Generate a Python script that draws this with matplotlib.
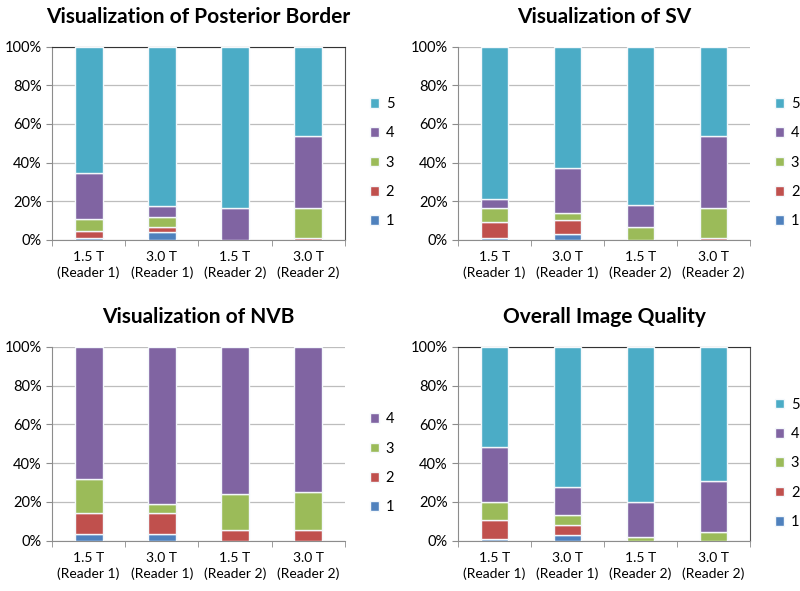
import numpy as np
import matplotlib
matplotlib.use("Agg")
import matplotlib.pyplot as plt
from matplotlib.ticker import PercentFormatter

plt.rcParams['font.family'] = ['Lato', 'DejaVu Sans']

# categories on the x axis
categories = ['1.5 T\n(Reader 1)', '3.0 T\n(Reader 1)', '1.5 T\n(Reader 2)', '3.0 T\n(Reader 2)']

# percent per score, one value per category
border_1 = [1.0, 4.3, 0.0, 0.0]
border_2 = [3.5, 2.6, 0.0, 1.0]
border_3 = [6.5, 4.8, 0.0, 15.4]
border_4 = [23.5, 6.1, 16.4, 37.6]
border_5 = [65.5, 82.2, 83.6, 46.0]

sv_1 = [1.0, 3.1, 0.0, 0.0]
sv_2 = [8.3, 7.3, 0.0, 1.0]
sv_3 = [7.1, 3.6, 6.7, 15.4]
sv_4 = [5.0, 23.0, 11.3, 37.6]
sv_5 = [78.6, 63.0, 82.0, 46.0]

nvb_1 = [3.4, 3.4, 0.0, 0.0]
nvb_2 = [10.7, 10.7, 5.7, 5.7]
nvb_3 = [17.9, 4.7, 18.3, 19.3]
nvb_4 = [68.0, 81.2, 76.0, 75.0]

overall_1 = [1.0, 3.1, 0.0, 0.0]
overall_2 = [9.7, 5.2, 0.0, 0.0]
overall_3 = [9.5, 5.2, 1.9, 4.5]
overall_4 = [28.0, 14.0, 18.3, 26.5]
overall_5 = [51.8, 72.5, 79.8, 69.0]

score_colors = {'1': '#4F81BD', '2': '#C0504D', '3': '#9BBB59',
                '4': '#8064A2', '5': '#4BACC6'}

panels = [
    ('Visualization of Posterior Border',
     [('1', border_1), ('2', border_2), ('3', border_3), ('4', border_4), ('5', border_5)], True),
    ('Visualization of SV',
     [('1', sv_1), ('2', sv_2), ('3', sv_3), ('4', sv_4), ('5', sv_5)], False),
    ('Visualization of NVB',
     [('1', nvb_1), ('2', nvb_2), ('3', nvb_3), ('4', nvb_4)], False),
    ('Overall Image Quality',
     [('1', overall_1), ('2', overall_2), ('3', overall_3), ('4', overall_4), ('5', overall_5)], True),
]

fig = plt.figure(figsize=(8, 5.91), dpi=100)
rects = [[0.065, 0.594, 0.366, 0.327],
         [0.5725, 0.594, 0.365, 0.327],
         [0.065, 0.085, 0.366, 0.328],
         [0.5725, 0.085, 0.365, 0.328]]

x = np.arange(len(categories))
for rect, (title, series, framed) in zip(rects, panels):
    ax = fig.add_axes(rect)
    bottom = np.zeros(len(categories))
    for label, vals in series:
        ax.bar(x, vals, width=0.38, bottom=bottom, color=score_colors[label],
               edgecolor='#F4F8FB', linewidth=1.0, label=label, zorder=3)
        bottom += np.array(vals)

    ax.set_xlim(-0.5, len(categories) - 0.5)
    ax.set_ylim(0, 100)
    ax.set_yticks(np.arange(0, 101, 20))
    ax.yaxis.set_major_formatter(PercentFormatter(decimals=0))
    ax.grid(axis='y', color='#BDBDBD', linewidth=0.9, zorder=0)

    ax.set_xticks(x)
    ax.set_xticklabels(categories, fontsize=10, linespacing=1.35)
    ax.set_xticks(np.arange(-0.5, len(categories)), minor=True)
    ax.tick_params(axis='x', which='major', length=0, pad=8)
    ax.tick_params(axis='x', which='minor', length=4, color='#8C8C8C')
    ax.tick_params(axis='y', length=4, color='#8C8C8C', labelsize=10.5)

    for side in ['left', 'bottom']:
        ax.spines[side].set_color('#8C8C8C')
    if framed:
        ax.spines['top'].set_color('#333333')
        ax.spines['right'].set_color('#555555')
    else:
        ax.spines['top'].set_visible(False)
        ax.spines['right'].set_visible(False)

    ax.set_title(title, fontsize=15, fontweight='bold', pad=17)

    handles, labels = ax.get_legend_handles_labels()
    ax.legend(handles[::-1], labels[::-1], loc='center left',
              bbox_to_anchor=(1.04, 0.40), frameon=False, fontsize=10.5,
              handlelength=0.65, handleheight=0.65, labelspacing=1.05,
              handletextpad=0.45)

plt.savefig('out.png', dpi=100)
